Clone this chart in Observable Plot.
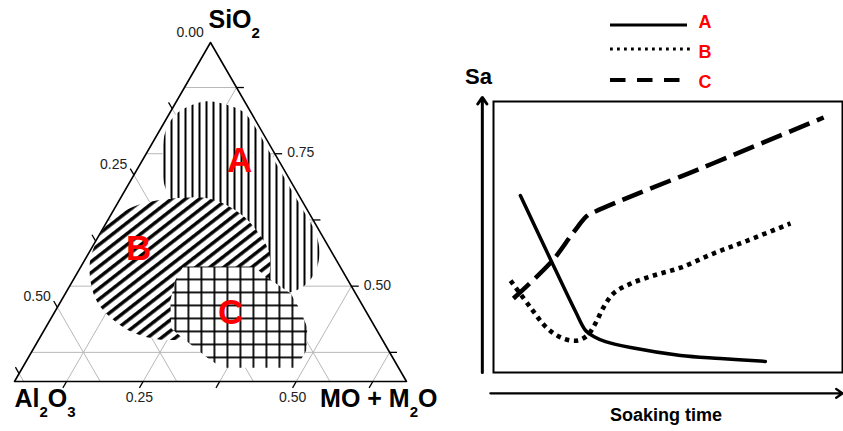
<!DOCTYPE html>
<html><head><meta charset="utf-8">
<script src="https://cdn.jsdelivr.net/npm/d3@7"></script>
<script src="https://cdn.jsdelivr.net/npm/@observablehq/plot@0.6"></script>
<style>
body{margin:0;background:#fff;}
#wrap{position:relative;width:843px;height:431px;overflow:hidden;font-family:"Liberation Sans",Arial,Helvetica,sans-serif;}
#tern,#line,#legend{position:absolute;top:0;}
#tern{left:0;} #line{left:440px;} #legend{left:0;pointer-events:none;}
svg{overflow:visible;}
</style></head><body>
<div id="wrap"><div id="tern"></div><div id="line"></div><div id="legend"></div></div>
<script>
// ===== Ternary diagram (points are [SiO2, Al2O3, MO + M2O]) =====
const rangeSiO2 = [0.32, 0.96];
const rangeAl2O3 = [0.00, 0.64];
const rangeMO = [0.04, 0.68];
const gridValues = [0.125, 0.25, 0.375, 0.5, 0.625, 0.75, 0.875];
const leftTickLabels = [0, 0.25, 0.5];    // Al2O3
const rightTickLabels = [0.75, 0.5];      // SiO2
const bottomTickLabels = [0.25, 0.5];     // MO + M2O
const vertexTitles = ["SiO_2", "Al_2O_3", "MO + M_2O"];

const regionA = [
  [0.756,0.180,0.064],[0.794,0.157,0.050],[0.824,0.125,0.051],[0.841,0.092,0.067],
  [0.849,0.062,0.089],[0.843,0.034,0.123],[0.830,0.013,0.157],[0.805,0.007,0.188],
  [0.756,0.007,0.237],[0.698,0.007,0.295],[0.645,0.007,0.348],[0.601,0.008,0.391],
  [0.564,0.020,0.416],[0.530,0.044,0.427],[0.503,0.073,0.424],[0.488,0.109,0.403],
  [0.501,0.140,0.359],[0.545,0.167,0.289],[0.601,0.196,0.203],[0.652,0.211,0.137],
  [0.690,0.210,0.100]
];
const regionB = [
  [0.601,0.357,0.041],[0.628,0.326,0.046],[0.650,0.281,0.069],[0.662,0.236,0.103],
  [0.667,0.190,0.142],[0.666,0.152,0.182],[0.652,0.126,0.222],[0.630,0.110,0.261],
  [0.603,0.102,0.295],[0.571,0.101,0.328],[0.537,0.114,0.349],[0.498,0.141,0.361],
  [0.460,0.185,0.355],[0.424,0.244,0.333],[0.403,0.303,0.294],[0.399,0.362,0.239],
  [0.413,0.401,0.186],[0.439,0.422,0.139],[0.469,0.430,0.101],[0.507,0.422,0.071],
  [0.552,0.400,0.048]
];
const regionC = [
  [0.537,0.256,0.207],[0.537,0.141,0.322],[0.515,0.128,0.357],[0.486,0.106,0.408],
  [0.454,0.106,0.440],[0.422,0.111,0.467],[0.379,0.134,0.487],[0.346,0.167,0.487],
  [0.346,0.287,0.367],[0.360,0.300,0.340],[0.401,0.324,0.275],[0.420,0.334,0.246],
  [0.473,0.309,0.218],[0.511,0.282,0.207]
];
const regionNames = ["A", "B", "C"];
const regionLabelPoints = [[0.737,0.064,0.199],[0.571,0.312,0.117],[0.450,0.222,0.328]];

// ===== Sa vs soaking time (x: time, y: Sa, arbitrary units) =====
const seriesKeys = ["A", "B", "C"];
const curveA = [[7.7,65.3],[15.8,43.2],[23.5,22.5],[26.4,15.5],[28.7,13.3],[32.1,11.4],[39.3,9.2],[53.6,6.3],[65.0,5.2],[77.9,4.1]];
const curveB = [[4.9,33.9],[10.6,24.0],[15.5,16.2],[20.1,12.5],[24.1,11.8],[26.9,13.7],[29.2,18.1],[31.5,24.0],[34.4,29.2],[39.3,32.8],[45.9,35.8],[53.6,38.7],[63.0,43.9],[72.8,48.7],[85.1,55.0]];
const curveC = [[5.7,27.3],[16.9,41.3],[22.9,51.7],[26.9,57.9],[29.2,59.4],[36.4,63.4],[44.4,67.6],[53.6,72.3],[63.0,77.2],[77.4,84.9],[94.6,94.1]];
const axisTitles = {y: "Sa", x: "Soaking time"};

// ---------- ternary helpers ----------
const [SMIN, SMAX] = rangeSiO2, [AMIN, AMAX] = rangeAl2O3, [MMIN, MMAX] = rangeMO;
const SPAN = SMAX - SMIN, H = Math.sqrt(3) / 2, T = 0.012;
const tx = p => (p[2] - MMIN) + (p[0] - SMIN) / 2;
const ty = p => (p[0] - SMIN) * H;
const vTop = [SMAX, AMIN, MMIN], vLeft = [SMIN, AMAX, MMIN], vRight = [SMIN, AMIN, MMAX];
const inside = (v, lo, hi) => v > lo + 1e-9 && v < hi - 1e-9;

const gridSegs = [], tickSegs = [];
for (const v of gridValues) {
  if (inside(v, SMIN, SMAX)) {
    gridSegs.push([[v, 1 - v - MMIN, MMIN], [v, AMIN, 1 - v - AMIN]]);
    tickSegs.push([[v, AMIN, 1 - v - AMIN], [v, AMIN - T, 1 - v - AMIN + T]]);
  }
  if (inside(v, AMIN, AMAX)) {
    gridSegs.push([[SMIN, v, 1 - SMIN - v], [1 - v - MMIN, v, MMIN]]);
    tickSegs.push([[1 - v - MMIN, v, MMIN], [1 - v - MMIN + T, v, MMIN - T]]);
  }
  if (inside(v, MMIN, MMAX)) {
    gridSegs.push([[SMIN, 1 - SMIN - v, v], [1 - v - AMIN, AMIN, v]]);
    tickSegs.push([[SMIN, 1 - SMIN - v, v], [SMIN - T, 1 - SMIN - v + T, v]]);
  }
}
const leftLabels = leftTickLabels.map(v => ({v, p: [1 - v - MMIN + T, v, MMIN - T]}));
const rightLabels = rightTickLabels.map(v => ({v, p: [v, AMIN - T, 1 - v - AMIN + T]}));
const bottomLabels = bottomTickLabels.map(v => ({v, p: [SMIN - T, 1 - SMIN - v + T, v]}));
const regionLabels = regionNames.map((name, i) => ({name, p: regionLabelPoints[i]}));

const FONT = '"Liberation Sans", Arial, Helvetica, sans-serif';
const seg = {x1: d => tx(d[0]), y1: d => ty(d[0]), x2: d => tx(d[1]), y2: d => ty(d[1])};
const at = {x: d => tx(d.p), y: d => ty(d.p)};

const tern = Plot.plot({
  width: 440, height: 431,
  marginLeft: 14, marginRight: 34, marginTop: 42, marginBottom: 50,
  x: {domain: [0, SPAN], axis: null},
  y: {domain: [0, SPAN * H], axis: null},
  style: {fontFamily: FONT, background: "transparent", overflow: "visible"},
  marks: [
    Plot.link(gridSegs, {...seg, stroke: "#b8b8b8", strokeWidth: 1}),
    Plot.line(regionA, {x: tx, y: ty, curve: "catmull-rom-closed", fill: "url(#hatchA)", stroke: "none"}),
    Plot.line(regionB, {x: tx, y: ty, curve: "catmull-rom-closed", fill: "url(#hatchB)", stroke: "none"}),
    Plot.line(regionC, {x: tx, y: ty, curve: "linear-closed", fill: "url(#hatchC)", stroke: "none"}),
    Plot.line([vTop, vLeft, vRight], {x: tx, y: ty, curve: "linear-closed", stroke: "black", strokeWidth: 1.6}),
    Plot.link(tickSegs, {...seg, stroke: "black", strokeWidth: 1.3}),
    Plot.text(leftLabels, {...at, text: d => d.v.toFixed(2), textAnchor: "end", dx: -3, dy: -4, fontSize: 14, fill: "#222"}),
    Plot.text(rightLabels, {...at, text: d => d.v.toFixed(2), textAnchor: "start", dx: 5, dy: -1, fontSize: 14, fill: "#222"}),
    Plot.text(bottomLabels, {...at, text: d => d.v.toFixed(2), textAnchor: "middle", dy: 10, fontSize: 14, fill: "#222"}),
    Plot.text(regionLabels, {...at, text: "name", fill: "#ff0000", fontSize: 35, fontWeight: "bold"}),
    Plot.text([{t: vertexTitles[0], p: vTop}], {...at, text: "t", textAnchor: "start", dx: -2, dy: -23, fontSize: 25, fontWeight: "bold"}),
    Plot.text([{t: vertexTitles[1], p: vLeft}], {...at, text: "t", textAnchor: "start", dx: 0, dy: 17, fontSize: 25, fontWeight: "bold"}),
    Plot.text([{t: vertexTitles[2], p: vRight}], {...at, text: "t", textAnchor: "end", dx: 31, dy: 17, fontSize: 25, fontWeight: "bold"})
  ]
});

// hatch patterns
const defs = d3.select(tern).insert("defs", ":first-child");
const pA = defs.append("pattern").attr("id", "hatchA").attr("patternUnits", "userSpaceOnUse").attr("width", 7).attr("height", 7);
pA.append("rect").attr("width", 7).attr("height", 7).attr("fill", "white");
pA.append("rect").attr("x", 2).attr("width", 2).attr("height", 7).attr("fill", "black");
const pB = defs.append("pattern").attr("id", "hatchB").attr("patternUnits", "userSpaceOnUse").attr("width", 8.6).attr("height", 8.6).attr("patternTransform", "rotate(-38)");
pB.append("rect").attr("width", 8.6).attr("height", 8.6).attr("fill", "white");
pB.append("rect").attr("y", 2).attr("width", 8.6).attr("height", 3.4).attr("fill", "black");
const pC = defs.append("pattern").attr("id", "hatchC").attr("patternUnits", "userSpaceOnUse").attr("width", 13).attr("height", 13);
pC.append("rect").attr("width", 13).attr("height", 13).attr("fill", "white");
pC.append("rect").attr("x", 5).attr("width", 1.8).attr("height", 13).attr("fill", "black");
pC.append("rect").attr("y", 5).attr("width", 13).attr("height", 1.8).attr("fill", "black");

// subscripts: "_2" -> lowered smaller digit
d3.select(tern).selectAll("text").each(function () {
  const t = this.textContent;
  if (!/_\d/.test(t)) return;
  const parts = t.split(/_(\d)/);
  const sel = d3.select(this); sel.text(null);
  let lowered = false;
  parts.forEach((p, i) => {
    if (!p) return;
    if (i % 2 === 1) { sel.append("tspan").attr("font-size", "15px").attr("dy", "10px").text(p); lowered = true; }
    else { const ts = sel.append("tspan").text(p); if (lowered) { ts.attr("dy", "-10px"); lowered = false; } }
  });
});
document.getElementById("tern").appendChild(tern);

// ---------- line chart ----------
const toObj = (arr, key) => arr.map(([t, s]) => ({t, s, key}));
const styles = {
  A: {strokeWidth: 3.5},
  B: {strokeWidth: 4.6, strokeDasharray: "4.4,4.6", strokeLinecap: "butt"},
  C: {strokeWidth: 4.5, strokeDasharray: "22,8", strokeLinecap: "butt"}
};
const axisArrows = [{x1: -3.2, y1: 0, x2: -3.2, y2: 101.5}, {x1: -0.9, y1: -7.7, x2: 100, y2: -7.7}];

const chart = Plot.plot({
  width: 403, height: 431,
  marginLeft: 53, marginRight: 1, marginTop: 101, marginBottom: 59,
  x: {domain: [0, 100], axis: null},
  y: {domain: [0, 100], axis: null},
  style: {fontFamily: FONT, background: "transparent", overflow: "visible"},
  marks: [
    Plot.frame({stroke: "black", strokeWidth: 2}),
    Plot.arrow([axisArrows[0]], {x1: "x1", y1: "y1", x2: "x2", y2: "y2", stroke: "black", strokeWidth: 3, headLength: 4, headAngle: 70}),
    Plot.arrow([axisArrows[1]], {x1: "x1", y1: "y1", x2: "x2", y2: "y2", stroke: "black", strokeWidth: 2.3, headLength: 5, headAngle: 70}),
    Plot.line(toObj(curveA, "A"), {x: "t", y: "s", stroke: "black", curve: "catmull-rom", ...styles.A}),
    Plot.line(toObj(curveB, "B"), {x: "t", y: "s", stroke: "black", curve: "catmull-rom", ...styles.B}),
    Plot.line(toObj(curveC, "C"), {x: "t", y: "s", stroke: "black", curve: "catmull-rom", ...styles.C}),
    Plot.text([axisTitles.y], {text: d => d, frameAnchor: "top-left", textAnchor: "middle", lineAnchor: "middle", dx: -15, dy: -25, fontSize: 22, fontWeight: "bold"}),
    Plot.text([axisTitles.x], {text: d => d, frameAnchor: "bottom", textAnchor: "middle", lineAnchor: "middle", dx: -2, dy: 43, fontSize: 18, fontWeight: "bold"})
  ]
});
document.getElementById("line").appendChild(chart);

// ---------- legend (above the chart) ----------
const legendStyles = {
  A: {w: 3, dash: null, x2: 687, y: 25, ty: 22},
  B: {w: 2.8, dash: "2.8,4.2", x2: 690, y: 49, ty: 52},
  C: {w: 4, dash: "15.5,11.5", x2: 681, y: 80, ty: 82}
};
const lg = d3.select("#legend").append("svg").attr("width", 843).attr("height", 100);
seriesKeys.forEach(k => {
  const s = legendStyles[k];
  lg.append("line").attr("x1", 610).attr("x2", s.x2).attr("y1", s.y).attr("y2", s.y)
    .attr("stroke", "black").attr("stroke-width", s.w).attr("stroke-dasharray", s.dash);
  lg.append("text").attr("x", 705).attr("y", s.ty).attr("dy", "0.35em").attr("text-anchor", "middle")
    .attr("fill", "#ff0000").attr("font-family", FONT).attr("font-weight", "bold").attr("font-size", 18).text(k);
});
</script>
</body></html>
